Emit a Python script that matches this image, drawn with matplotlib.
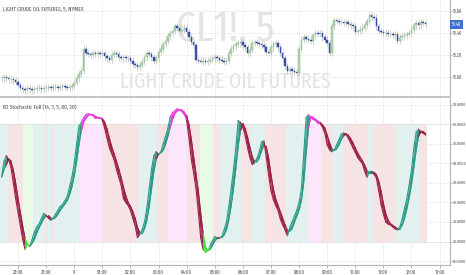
import numpy as np
import matplotlib
matplotlib.use("Agg")
import matplotlib.pyplot as plt
import matplotlib.transforms as mtransforms

# 5 min closes of CL1!, 21:25 .. 12:30
closes = [50.99, 51.00, 50.99, 50.98, 50.98, 50.97, 50.96,
          50.93, 50.90, 50.89, 50.88, 50.90, 50.89, 50.88, 50.89, 50.90, 50.90, 50.89, 50.90,
          50.90, 50.91, 50.90, 50.91, 50.91, 50.90, 50.91, 50.92, 50.91, 50.90, 50.91, 50.92,
          50.95, 50.99, 51.03, 51.06, 51.26, 51.22, 51.21, 51.20, 51.22, 51.21, 51.22, 51.21,
          51.22, 51.19, 51.17, 51.16, 51.20, 51.22, 51.21, 51.18, 51.17, 51.18, 51.17, 51.17,
          51.15, 51.12, 51.11, 51.09, 51.11, 51.14, 51.18, 51.22, 51.21, 51.18, 51.15, 51.17,
          51.23, 51.26, 51.30, 51.33, 51.37, 51.40, 51.42, 51.46, 51.45, 51.42, 51.43, 51.45,
          51.41, 51.36, 51.32, 51.29, 51.16, 51.15, 51.14, 51.15, 51.14, 51.15, 51.16, 51.17,
          51.18, 51.17, 51.16, 51.15, 51.14, 51.15, 51.22, 51.26, 51.28, 51.30, 51.31, 51.32,
          51.29, 51.27, 51.22, 51.25, 51.31, 51.32, 51.31, 51.30, 51.29, 51.27, 51.23, 51.22,
          51.27, 51.30, 51.31, 51.27, 51.22, 51.17, 51.10, 51.06, 51.07, 51.06, 51.05, 51.04,
          51.26, 51.34, 51.36, 51.35, 51.34, 51.33, 51.38, 51.40, 51.39, 51.40, 51.36, 51.34,
          51.31, 51.22, 51.46, 51.52, 51.51, 51.50, 51.50, 51.49, 51.50, 51.48, 51.47, 51.46,
          51.41, 51.42, 51.43, 51.45, 51.47, 51.51, 51.56, 51.55, 51.54, 51.46, 51.42, 51.41,
          51.40, 51.40, 51.39, 51.39, 51.38, 51.39, 51.33, 51.36, 51.37, 51.38, 51.39, 51.40,
          51.43, 51.47, 51.49, 51.47, 51.50, 51.49, 51.48]

# stochastic %K
stoch_k = [53, 61, 64, 62, 58, 50, 42,
           35, 28, 21, 16, 19, 17.5, 21, 25, 27.5, 29, 32, 34.5,
           33.5, 32, 31, 32, 34, 36, 38, 39, 41, 43, 48, 53,
           60, 70, 79, 81, 83.5, 85, 85.5, 85, 84.5, 83, 83.5, 83.5,
           82, 78, 73, 68, 65, 62, 57, 53, 49, 42, 40, 38.5,
           36, 32, 28, 22, 24, 26, 30, 37, 47, 57, 64, 66,
           64.5, 66, 70, 74, 78, 84, 86, 87, 88, 87.5, 86.5, 85,
           82, 73, 62, 55, 47, 35, 22, 16, 14.5, 15.5, 18, 20.5,
           22.5, 22, 22, 22.5, 26, 30, 38, 47, 57, 68, 82, 81,
           78.5, 74, 68, 63, 59.5, 60.5, 62.5, 66, 71, 71.5, 63, 54,
           46, 41.5, 38.5, 36, 31.5, 28.5, 26, 23, 27, 30, 33, 36,
           40, 47, 65, 83.5, 85, 83.5, 82.5, 82, 80.5, 80.5, 78.5, 75.5,
           69.5, 67, 66, 67, 69.5, 72, 75, 75.5, 75, 73, 70.5, 68,
           65.5, 63, 61.5, 60, 56, 53, 56, 56, 54.5, 52.5, 46, 39,
           34, 30, 29, 28.5, 27.5, 26.5, 26, 27.5, 31.5, 37, 42, 49,
           57, 68, 76, 77.5, 76, 75.5, 74.5]

# background zones (hours after 22:00)
band_edges = [-0.64, -0.36, 0.18, 0.53, 0.96, 1.07, 1.21, 1.28, 2.21, 3.02, 4.27, 4.95,
              5.34, 6.01, 6.48, 6.94, 7.19, 7.94, 8.29, 8.79, 9.54, 10.32, 10.78, 11.21,
              11.57, 12.46, 12.63, 13.45, 14.31, 14.55]
band_kinds = ['up', 'dn', 'os', 'up', 'dn', 'up', 'dn', 'up', 'ob', 'dn', 'up', 'dn',
              'ob', 'dn', 'os', 'dn', 'up', 'dn', 'up', 'dn', 'up', 'ob', 'dn', 'up',
              'dn', 'up', 'dn', 'up', 'dn']

hour_ticks = list(range(16))
hour_labels = ['22:00', '23:00', '9'] + ['%02d:00' % h for h in range(1, 14)]
price_ticks = [51.00, 51.20, 51.40, 51.60]
stoch_ticks = [10, 20, 30, 40, 50, 60, 70, 80, 90]

band_colors = {'up': '#e2f1ef', 'dn': '#f6e4e4', 'ob': '#fde5fb', 'os': '#e9fbe6'}
txt = '#4d4d4d'
narrow = ['Fira Sans Extra Condensed', 'DejaVu Sans']

closes = np.array(closes)
k = np.array(stoch_k, dtype=float)
n = len(closes)
t = -35 / 60.0 + np.arange(n) / 12.0
opens = np.concatenate([[closes[0]], closes[:-1]])
d = np.array([k[max(0, i - 2):i + 1].mean() for i in range(n)])

fig = plt.figure(figsize=(4.66, 2.75), dpi=100)
ax1 = fig.add_axes([0, 178 / 275, 450 / 466, 97 / 275])
ax2 = fig.add_axes([0, 10 / 275, 450 / 466, 167 / 275])
xlim = (-0.64, 15.37)

# ---- price pane
ax1.set_xlim(*xlim)
ax1.set_ylim(50.82, 51.70)
for h in hour_ticks:
    ax1.axvline(h, color='#efefef', lw=0.6, zorder=0)
for p in price_ticks:
    ax1.axhline(p, color='#efefef', lw=0.6, zorder=0)

ax1.text(0.5, 0.70, 'CL1!, 5', transform=ax1.transAxes, ha='center', va='center',
         fontsize=31, color='#e4e4e4', family=narrow, zorder=1)
ax1.text(0.5, 0.155, 'LIGHT CRUDE OIL FUTURES', transform=ax1.transAxes, ha='center',
         va='center', fontsize=15.5, color='#e4e4e4', family=narrow, zorder=1)

up = closes >= opens
body_lo = np.minimum(opens, closes)
body_h = np.maximum(np.abs(closes - opens), 0.004)
ax1.vlines(t, body_lo - 0.03, body_lo + body_h + 0.03, color='#b9c4b9', lw=0.5, zorder=2)
ax1.bar(t[up], body_h[up], bottom=body_lo[up], width=0.055, color='#b2dab2',
        edgecolor='#7fae85', lw=0.3, zorder=3)
ax1.bar(t[~up], body_h[~up], bottom=body_lo[~up], width=0.055, color='#3d52b3',
        edgecolor='#2d3f9a', lw=0.3, zorder=3)

ax1.text(0.007, 0.905, 'LIGHT CRUDE OIL FUTURES, 5, NYMEX', transform=ax1.transAxes,
         fontsize=4.2, color=txt, family=narrow, va='center')

ax1.yaxis.tick_right()
ax1.set_yticks(price_ticks)
ax1.set_yticklabels(['%.2f' % p for p in price_ticks], fontsize=3.5, color=txt, family=narrow)
ax1.set_xticks([])
ax1.tick_params(axis='y', length=1.2, width=0.5, color='#999999', pad=0.8)
for s in ['top', 'left']:
    ax1.spines[s].set_visible(False)
ax1.spines['right'].set_color('#b5b5b5')
ax1.spines['right'].set_linewidth(0.8)
ax1.spines['bottom'].set_color('#c4c4c4')
ax1.spines['bottom'].set_linewidth(1.5)

trans = mtransforms.blended_transform_factory(ax1.transAxes, ax1.transData)
ax1.text(1.004, closes[-1], '%.2f' % closes[-1], transform=trans, fontsize=3.5,
         color='white', va='center', ha='left', family=narrow,
         bbox=dict(boxstyle='square,pad=0.35', fc='#3b6fd4', ec='none'))

# ---- stochastic pane
ax2.set_xlim(*xlim)
ax2.set_ylim(8, 93.5)
for h in hour_ticks:
    ax2.axvline(h, color='#efefef', lw=0.6, zorder=0)
for v in stoch_ticks:
    ax2.axhline(v, color='#efefef', lw=0.6, zorder=0)
for i, kind in enumerate(band_kinds):
    ax2.fill_between([band_edges[i], band_edges[i + 1]], 20, 80,
                     color=band_colors[kind], lw=0, zorder=1)
ax2.axhline(80, color='#c8c8c8', lw=0.5, ls=(0, (1, 1.5)), zorder=1.5)
ax2.axhline(20, color='#c8c8c8', lw=0.5, ls=(0, (1, 1.5)), zorder=1.5)

for i in range(n - 1):
    if min(k[i + 1], d[i + 1]) > 80:
        c = '#e83ae0'
    elif max(k[i + 1], d[i + 1]) < 20:
        c = '#45e03a'
    elif k[i + 1] >= d[i + 1]:
        c = '#2e9a86'
    else:
        c = '#9b2149'
    ax2.fill_between(t[i:i + 2], k[i:i + 2], d[i:i + 2], color=c, lw=0, zorder=3)
    ax2.plot(t[i:i + 2], k[i:i + 2], color=c, lw=0.8, zorder=4, solid_capstyle='round')
    ax2.plot(t[i:i + 2], d[i:i + 2], color=c, lw=0.8, zorder=4, solid_capstyle='round')

ax2.text(0.007, 0.946, 'B3 Stochastic Full (14, 3, 5, 80, 20)', transform=ax2.transAxes,
         fontsize=4.2, color=txt, family=narrow, va='center')

ax2.yaxis.tick_right()
ax2.set_yticks(stoch_ticks)
ax2.set_yticklabels(['%.4f' % v for v in stoch_ticks], fontsize=3.1, color=txt, family=narrow)
ax2.set_xticks(hour_ticks)
ax2.set_xticklabels(hour_labels, fontsize=3.8, color=txt, family=narrow)
ax2.tick_params(axis='y', length=1.2, width=0.5, color='#999999', pad=0.6)
ax2.tick_params(axis='x', length=2, width=0.5, color='#999999', pad=1.5)
for s in ['top', 'left']:
    ax2.spines[s].set_visible(False)
ax2.spines['right'].set_color('#b5b5b5')
ax2.spines['right'].set_linewidth(0.8)
ax2.spines['bottom'].set_color('#b5b5b5')
ax2.spines['bottom'].set_linewidth(0.8)

fig.savefig('out.png', dpi=100)
